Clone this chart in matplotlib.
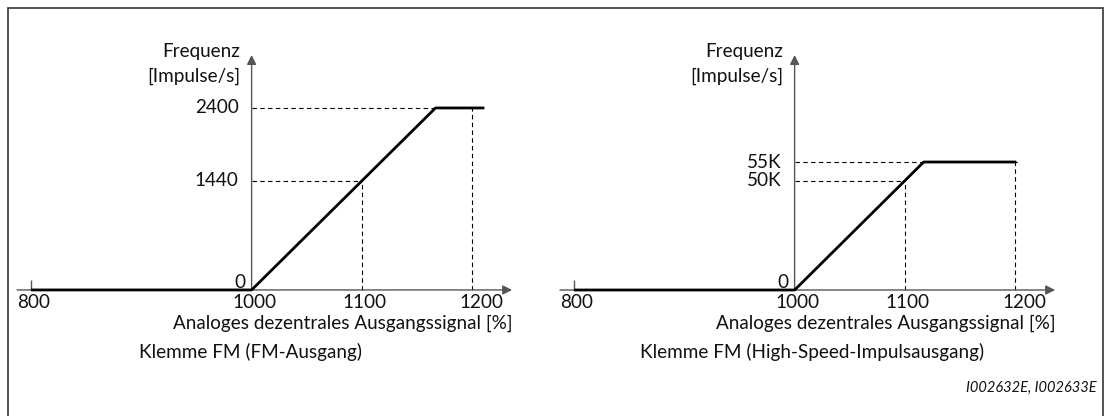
import numpy as np
import matplotlib.pyplot as plt
from matplotlib.patches import Rectangle

plt.rcParams['font.family'] = ['Lato', 'DejaVu Sans']

# x axis (shared by both panels)
x_ticks = [800, 1000, 1100, 1200]
x_title = 'Analoges dezentrales Ausgangssignal [%]'

# left panel: FM output
fm_x = [800, 1000, 1166.7, 1211]
fm_y = [0, 0, 2400, 2400]
fm_yticks = [0, 1440, 2400]
fm_ylabels = ['0', '1440', '2400']
fm_guides = [(1100, 1440, 1100), (1200, 2400, 1166.7)]  # (x, y, end of horizontal dash)
fm_caption = 'Klemme FM (FM-Ausgang)'

# right panel: high speed pulse output
hs_x = [800, 1000, 1117, 1201]
hs_y = [0, 0, 55000, 55000]
hs_yticks = [0, 50000, 55000]
hs_ylabels = ['0', '50K', '55K']
hs_guides = [(1100, 50000, 1100), (1200, 55000, 1203.5)]
hs_caption = 'Klemme FM (High-Speed-Impulsausgang)'

# the right panel is a sketch, y spacing is not proportional
hs_y_data = [-1e5, 0, 50000, 55000, 3e5]
hs_y_vis = [-218, 0, 109, 128, 128 + 245000 * 0.00218]

AX_COL = '#555555'
TXT = '#111111'
FS = 13.6

fig = plt.figure(figsize=(11.05, 4.16), dpi=100)
W, H = 1105, 416

fig.patches.append(Rectangle((8 / W, -0.1), (1103 - 8) / W, 1.1 - 8 / H,
                             transform=fig.transFigure, fill=False,
                             edgecolor='#444444', lw=1.3))

bottom = (416 - 312.7) / H
height = 265.4 / H


def panel(left_px, cx, cy, ticks, labels, guides, caption, cap_x, scale=None):
    ax = fig.add_axes([left_px / W, bottom, 513 / W, height])
    ax.set_xlim(780, 1245)
    if scale is None:
        ax.set_ylim(-300, 3200)
    else:
        fwd = lambda y: np.interp(y, hs_y_data, hs_y_vis)
        inv = lambda v: np.interp(v, hs_y_vis, hs_y_data)
        ax.set_yscale('function', functions=(fwd, inv))
        ax.set_ylim(inv(-22.7), inv(242.7))
    ax.axis('off')

    # axes with arrows
    ax.annotate('', xy=(0.981, 0), xytext=(0.0158, 0),
                xycoords=ax.get_yaxis_transform(),
                arrowprops=dict(arrowstyle='-|>', color=AX_COL, lw=1.0,
                                mutation_scale=14, shrinkA=0, shrinkB=0))
    ax.annotate('', xy=(1000, 0.971), xytext=(1000, 0.0855),
                xycoords=ax.get_xaxis_transform(),
                arrowprops=dict(arrowstyle='-|>', color=AX_COL, lw=1.0,
                                mutation_scale=14, shrinkA=0, shrinkB=0))
    ax.plot(800, 0, marker=2, markersize=7.5, color=AX_COL, mew=1.0)

    # dashed guides
    for gx, gy, hend in guides:
        ax.plot([1000, hend], [gy, gy], color='black', lw=0.8, ls=(0, (4, 3)))
        ax.plot([gx, gx], [0, gy], color='black', lw=0.8, ls=(0, (4, 3)))

    ax.plot(cx, cy, color='black', lw=2.0, solid_capstyle='butt', zorder=5)

    for t in x_ticks:
        ax.annotate(str(t), (t, 0), xytext=(3 if t < 1200 else 9, -13),
                    textcoords='offset pixels', ha='center', va='center',
                    fontsize=FS, color=TXT)
    for t, lab in zip(ticks, labels):
        dy = 7 if t == 0 else 0
        dx = -6 if t == 0 else -13
        ax.annotate(lab, (1000, t), xytext=(dx, dy), textcoords='offset pixels',
                    ha='right', va='center', fontsize=FS, color=TXT)

    ax.annotate('Frequenz', (1000, 0.971), xycoords=ax.get_xaxis_transform(),
                xytext=(-11, 3), textcoords='offset pixels', ha='right',
                va='center', fontsize=FS, color=TXT)
    ax.annotate('[Impulse/s]', (1000, 0.971), xycoords=ax.get_xaxis_transform(),
                xytext=(-11, -21), textcoords='offset pixels', ha='right',
                va='center', fontsize=FS, color=TXT)
    ax.annotate(x_title, (0.981, 0), xycoords=ax.get_yaxis_transform(),
                xytext=(0, -33), textcoords='offset pixels', ha='right',
                va='center', fontsize=FS, color=TXT)
    ax.annotate(caption, (cap_x, 0), xycoords=ax.get_yaxis_transform(),
                xytext=(0, -62), textcoords='offset pixels', ha='center',
                va='center', fontsize=FS, color=TXT)
    return ax


panel(8.9, fm_x, fm_y, fm_yticks, fm_ylabels, fm_guides, fm_caption, 0.47)
panel(551.9, hs_x, hs_y, hs_yticks, hs_ylabels, hs_guides, hs_caption, 0.507, scale='f')

fig.text(1097 / W, 1 - 388 / H, 'I002632E, I002633E', ha='right', va='center',
         fontsize=10.5, style='italic', color=TXT)

fig.savefig('out.png', dpi=100)
